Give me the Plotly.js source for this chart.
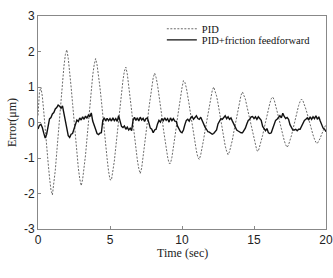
<!DOCTYPE html>
<html>
<head>
<meta charset="utf-8">
<script src="https://cdn.plot.ly/plotly-3.0.1.min.js"></script>
<style>
  html, body { margin: 0; padding: 0; background: #fff; }
  #chart { width: 333px; height: 278px; }
</style>
</head>
<body>
<div id="chart"></div>
<script>
// Sample times, 0 to 20 s in 0.1 s steps
const time = [];
for (let i = 0; i <= 200; i++) time.push(+(i * 0.1).toFixed(1));

// Tracking error with PID only (um)
const errPID = [
  0.20, 0.85, 0.99, 0.74, 0.31, -0.10, -0.66, -1.12, -1.55, -1.90,
  -2.04, -1.76, -1.35, -0.85, -0.36, 0.18, 0.72, 1.17, 1.58, 1.91,
  2.05, 1.81, 1.46, 1.00, 0.54, 0.07, -0.43, -0.85, -1.28, -1.59,
  -1.78, -1.60, -1.31, -0.92, -0.46, 0.01, 0.48, 0.94, 1.33, 1.62,
  1.80, 1.63, 1.38, 1.00, 0.62, 0.16, -0.25, -0.67, -1.02, -1.37,
  -1.61, -1.62, -1.39, -1.09, -0.70, -0.31, 0.11, 0.50, 0.86, 1.19,
  1.45, 1.56, 1.37, 1.07, 0.70, 0.34, -0.03, -0.42, -0.75, -1.06,
  -1.30, -1.44, -1.28, -0.99, -0.65, -0.31, 0.03, 0.40, 0.72, 1.03,
  1.26, 1.39, 1.27, 1.06, 0.80, 0.49, 0.18, -0.16, -0.45, -0.71,
  -0.97, -1.15, -1.15, -0.98, -0.74, -0.46, -0.14, 0.17, 0.48, 0.74,
  0.98, 1.18, 1.13, 0.98, 0.77, 0.50, 0.23, -0.06, -0.33, -0.58,
  -0.80, -0.98, -1.04, -0.91, -0.72, -0.48, -0.23, 0.02, 0.28, 0.51,
  0.73, 0.90, 1.00, 0.90, 0.75, 0.54, 0.29, 0.05, -0.20, -0.45,
  -0.66, -0.81, -0.91, -0.82, -0.68, -0.49, -0.26, -0.03, 0.20, 0.43,
  0.63, 0.77, 0.86, 0.78, 0.66, 0.47, 0.29, 0.07, -0.13, -0.33,
  -0.50, -0.67, -0.79, -0.81, -0.68, -0.54, -0.36, -0.17, 0.03, 0.22,
  0.39, 0.54, 0.67, 0.72, 0.64, 0.50, 0.33, 0.16, -0.01, -0.20,
  -0.36, -0.51, -0.63, -0.70, -0.63, -0.52, -0.37, -0.20, -0.02, 0.16,
  0.33, 0.48, 0.59, 0.66, 0.61, 0.51, 0.38, 0.24, 0.08, -0.07,
  -0.22, -0.35, -0.47, -0.56, -0.59, -0.53, -0.44, -0.33, -0.22, -0.10,
  -0.05
];

// Tracking error with PID plus friction feedforward (um)
const errFF = [
  -0.18, -0.08, -0.05, -0.14, -0.30, -0.44, -0.33, -0.14, 0.10, 0.14,
  0.24, 0.28, 0.38, 0.42, 0.49, 0.46, 0.40, 0.47, 0.28, 0.06,
  -0.18, -0.37, -0.42, -0.33, -0.31, -0.18, -0.06, 0.07, 0.03, 0.13,
  0.07, 0.16, 0.09, 0.18, 0.12, 0.21, 0.16, 0.27, 0.04, -0.11,
  -0.19, -0.31, -0.34, -0.30, -0.29, 0.06, 0.13, 0.04, 0.12, 0.05,
  0.11, 0.04, 0.13, 0.05, 0.11, 0.03, 0.19, 0.04, -0.11, -0.14,
  -0.10, -0.19, -0.13, -0.21, -0.16, -0.23, 0.06, 0.15, 0.06, 0.13,
  0.04, 0.15, 0.07, 0.12, 0.03, 0.11, 0.13, -0.01, -0.16, -0.19,
  -0.29, -0.21, -0.19, -0.04, 0.06, 0.01, 0.11, 0.05, 0.13, 0.06,
  0.11, 0.01, 0.13, 0.05, 0.11, 0.04, 0.03, -0.11, -0.19, -0.26,
  -0.29, -0.21, -0.06, 0.06, 0.09, 0.04, 0.13, 0.17, 0.09, 0.16,
  0.19, 0.11, 0.09, 0.15, 0.04, -0.04, -0.13, -0.19, -0.26, -0.27,
  -0.31, -0.33, -0.31, -0.24, -0.21, -0.04, 0.06, 0.11, 0.09, 0.16,
  0.19, 0.11, 0.16, 0.09, 0.13, 0.04, -0.06, -0.14, -0.21, -0.24,
  -0.27, -0.29, -0.29, -0.24, -0.16, -0.04, 0.06, 0.09, 0.16, 0.17,
  0.11, 0.16, 0.09, 0.16, 0.11, 0.06, -0.11, -0.19, -0.23, -0.17,
  -0.29, -0.31, -0.29, -0.17, -0.06, 0.06, 0.09, 0.16, 0.19, 0.13,
  0.26, 0.17, 0.11, 0.14, 0.09, -0.06, -0.14, -0.21, -0.21, -0.19,
  -0.23, -0.19, -0.19, -0.11, -0.06, 0.06, 0.09, 0.13, 0.07, 0.16,
  0.09, 0.16, 0.11, 0.19, 0.09, 0.16, 0.04, -0.04, -0.16, -0.19,
  -0.26
];

const xTicks = [0, 5, 10, 15, 20];
const yTicks = [-3, -2, -1, 0, 1, 2, 3];

const serif = 'Liberation Serif, Times New Roman, serif';

const traces = [
  {
    x: time, y: errPID, name: 'PID', type: 'scatter', mode: 'lines',
    legend: 'legend',
    line: { color: '#6a6a6a', width: 1, dash: '2px,1.5px' }
  },
  {
    x: time, y: errFF, name: 'PID+friction feedforward', type: 'scatter', mode: 'lines',
    legend: 'legend2',
    line: { color: '#111', width: 1.4 }
  }
];

const axisCommon = {
  showgrid: false, zeroline: false,
  showline: true, mirror: true, linecolor: '#888', linewidth: 1,
  ticks: 'inside', ticklen: 3, tickcolor: '#888',
  tickfont: { family: 'Liberation Sans, Arial, sans-serif', size: 12, color: '#222' }
};

const legendCommon = {
  x: 0.43, xanchor: 'left', yanchor: 'middle',
  bgcolor: 'rgba(0,0,0,0)', borderwidth: 0,
  font: { family: serif, size: 10.5, color: '#111' }
};

const layout = {
  width: 333, height: 278,
  margin: { l: 38, r: 7, t: 16, b: 49 },
  paper_bgcolor: '#fff', plot_bgcolor: '#fff',
  showlegend: true,
  legend: Object.assign({}, legendCommon, { y: 0.94 }),
  legend2: Object.assign({}, legendCommon, { y: 0.888 }),
  xaxis: Object.assign({}, axisCommon, {
    range: [0, 20], tickvals: xTicks, ticktext: xTicks.map(String)
  }),
  yaxis: Object.assign({}, axisCommon, {
    range: [-3, 3], tickvals: yTicks, ticktext: yTicks.map(String),
    title: { text: 'Error(μm)', standoff: 4,
      font: { family: serif, size: 12, color: '#222' } }
  }),
  // x-axis title set just below the tick labels
  annotations: [{
    text: 'Time (sec)', xref: 'paper', yref: 'paper',
    x: 0.5, y: -0.112, xanchor: 'center', yanchor: 'middle', showarrow: false,
    font: { family: serif, size: 12, color: '#222' }
  }]
};

Plotly.newPlot('chart', traces, layout, { displayModeBar: false, staticPlot: true });
</script>
</body>
</html>
